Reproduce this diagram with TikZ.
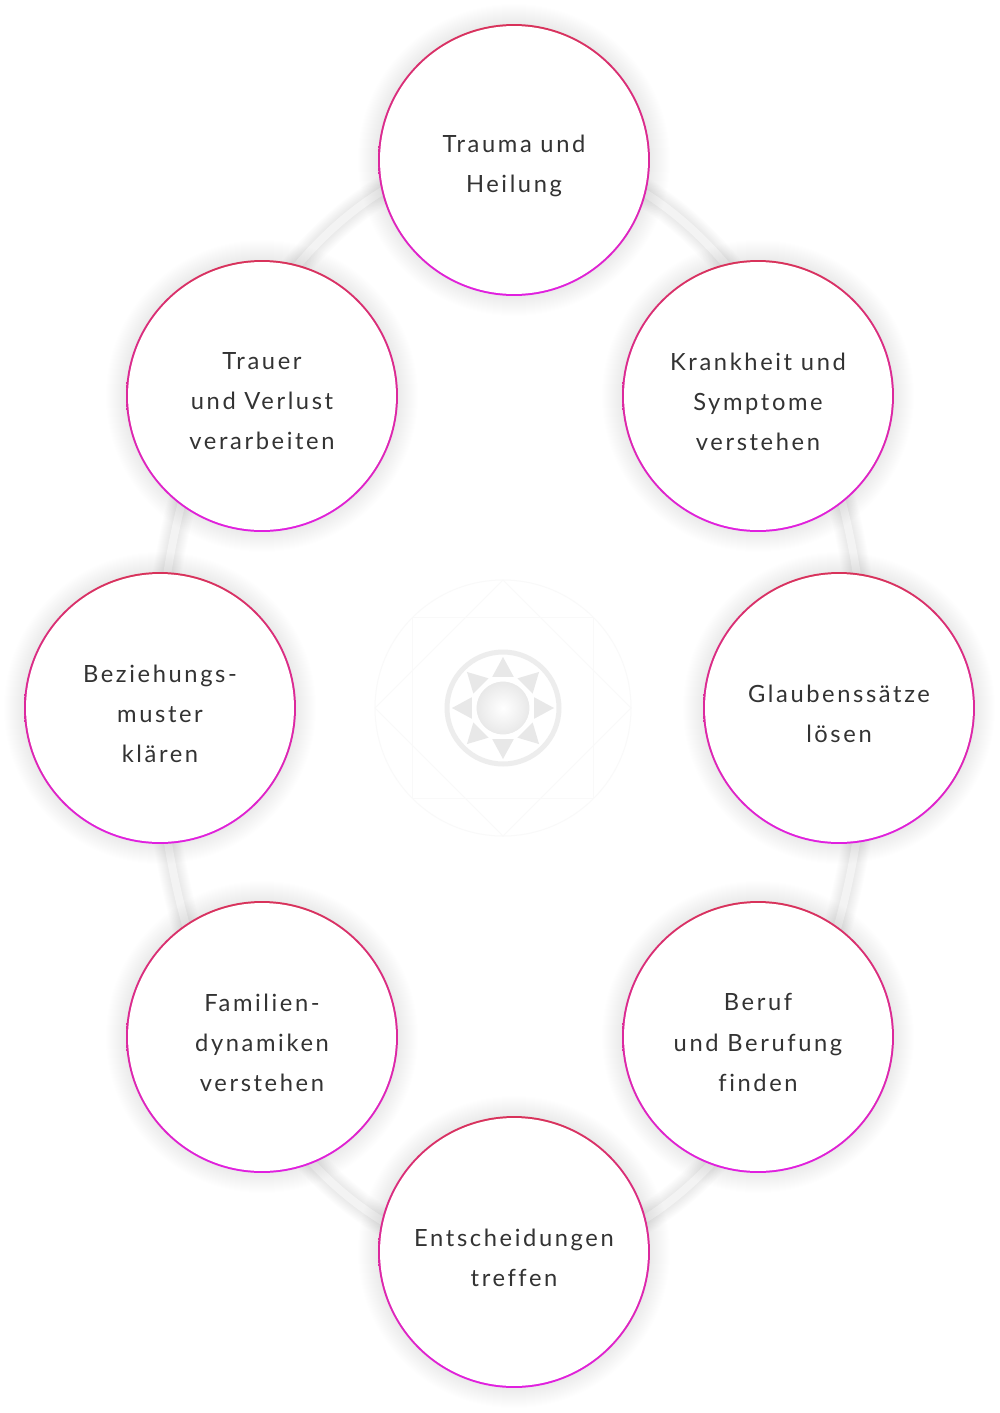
\documentclass[tikz,border=0pt]{standalone}
\usepackage{fontspec}
\setmainfont{Lato}[LetterSpace=11, Ligatures=NoCommon]
\definecolor{ringgray}{HTML}{F3F3F3}
\definecolor{topred}{HTML}{D8325A}
\definecolor{botmag}{HTML}{E020E0}
\definecolor{textgray}{HTML}{333333}
\definecolor{ornament}{HTML}{E8E8E8}
\definecolor{faint}{HTML}{F9F9F9}

\tikzset{
  topic/.style={circle, minimum size=5.44cm, inner sep=0pt, top color=topred, bottom color=botmag,
    path picture={\fill[white] (path picture bounding box.center) circle (2.68cm);}},
  topictext/.style={align=center, text=textgray, inner sep=0pt, font=\fontsize{13.5}{22.8}\selectfont},
  glow/.style={fill=black, opacity=.0055}
}

\begin{document}
\begin{tikzpicture}[x=0.02cm,y=-0.02cm]
\fill[white] (0,0) rectangle (1000,1413);
\useasboundingbox (0,0) rectangle (1000,1413);

\coordinate (M) at (503,708);
\coordinate (trauma) at (514,160);
\coordinate (krank) at (758,396);
\coordinate (glaub) at (839,708);
\coordinate (beruf) at (758,1037);
\coordinate (entsch) at (514,1252);
\coordinate (famil) at (262,1037);
\coordinate (bezieh) at (160,708);
\coordinate (trauer) at (262,396);

% ring behind the circles
\foreach \w in {0.18,0.22,...,0.62}
  \draw[black, opacity=.006, line width=\w cm] (512,706) ellipse (355 and 553);
\draw[ringgray, line width=0.16cm] (512,706) ellipse (355 and 553);

% centre ornament
\draw[faint, line width=0.02cm] (M) circle (128);
\draw[faint, line width=0.02cm] (M) +(0:128) -- +(90:128) -- +(180:128) -- +(270:128) -- cycle;
\draw[faint, line width=0.02cm] (M) +(45:128) -- +(135:128) -- +(225:128) -- +(315:128) -- cycle;
\draw[black!7, line width=0.1cm] (M) circle (56);
\foreach \a in {0,45,...,315}
  \fill[ornament] (M) +(\a:51) -- +(\a+19:33) -- +(\a-19:33) -- cycle;
\shade[inner color=white, outer color=black!9] (M) circle (27);
\draw[white, line width=0.06cm] (M) circle (28);

% soft shadow round each circle
\foreach \c in {trauma,krank,glaub,beruf,entsch,famil,bezieh,trauer}
  \foreach \r in {137,...,156}
    \fill[glow] (\c) circle (\r);

\foreach \c/\txt in {trauma/{Trauma und\\Heilung}, krank/{Krankheit und\\Symptome\\verstehen},
    glaub/{Glaubenssätze\\lösen}, beruf/{Beruf\\und Berufung\\finden},
    entsch/{Entscheidungen\\treffen}, famil/{Familien-\\dynamiken\\verstehen},
    bezieh/{Beziehungs-\\muster\\klären}, trauer/{Trauer\\und Verlust\\verarbeiten}}{
  \node[topic] (\c-ring) at (\c) {};
  \node[topictext] (\c-text) at ([yshift=-0.11cm]\c-ring.center) {\txt};
}

\end{tikzpicture}
\end{document}
